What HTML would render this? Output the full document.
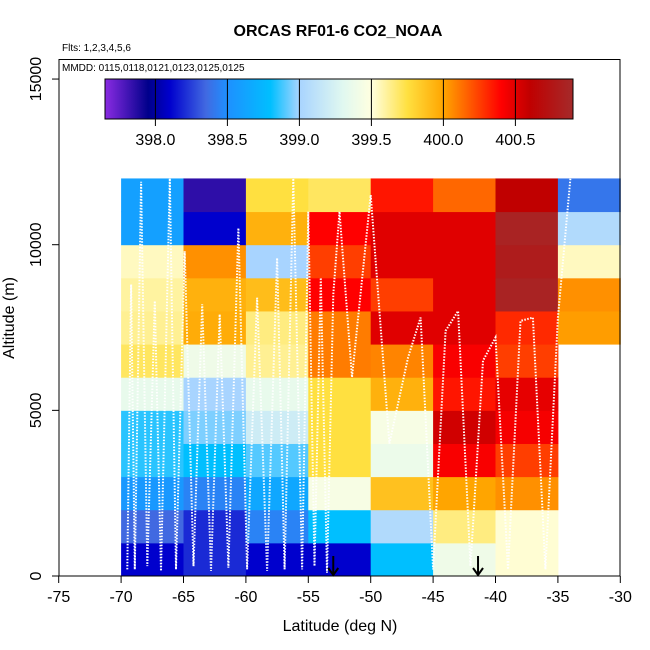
<!DOCTYPE html>
<html><head><meta charset="utf-8"><style>
body{margin:0;background:#fff;}
svg{display:block;font-family:"Liberation Sans",sans-serif;}
</style></head><body>
<svg id="chart" width="650" height="650" viewBox="0 0 650 650">
<text x="338" y="36" font-size="16" font-weight="bold" text-anchor="middle">ORCAS RF01-6 CO2_NOAA</text>
<text x="62" y="51" font-size="10">Flts: 1,2,3,4,5,6</text>
<g id="cells"></g>
<g id="tracks"></g>
<rect x="59" y="59.5" width="561" height="516.5" fill="none" stroke="#000" stroke-width="1"/>
<text x="62" y="71" font-size="10">MMDD: 0115,0118,0121,0123,0125,0125</text>
<defs><linearGradient id="cbgrad" x1="0" x2="1" y1="0" y2="0"></linearGradient></defs>
<rect x="105" y="79" width="468" height="40" fill="url(#cbgrad)" stroke="#000" stroke-width="1"/>
<g id="cbticks"></g>
<g id="axes"></g>
<text x="340" y="631" font-size="16" text-anchor="middle">Latitude (deg N)</text>
<text x="0" y="0" font-size="16" text-anchor="middle" transform="translate(14,318) rotate(-90)">Altitude (m)</text>
</svg>
<script>
const latEdges=[-70,-65,-60,-55,-50,-45,-40,-35,-30];
const altEdges=[0,1000,2000,3000,4000,5000,6000,7000,8000,9000,10000,11000,12000];
// rows from bottom (0-1000) upward; columns west->east
const row1=[398.1,398.2,398.1,398.1,398.8,399.4,399.52,null];
const row2=[398.35,398.2,398.45,398.8,399.05,399.65,399.52,null];
const row3=[398.55,398.45,398.65,399.45,399.88,400.0,400.05,null];
const row4=[398.85,398.8,398.9,399.75,399.38,400.42,400.25,null];
const row5=[398.85,398.95,399.2,399.75,399.45,400.55,400.43,null];
const row6=[399.35,399.0,399.35,399.75,399.95,400.35,400.48,null];
const row7=[399.7,399.4,399.62,400.1,400.08,400.42,400.25,null];
const row8=[399.62,399.97,399.65,400.1,400.5,400.5,400.3,400.02];
const row9=[399.6,399.95,399.9,400.4,400.25,400.5,400.85,400.05];
const row10=[399.55,400.05,399.0,400.25,400.5,400.5,400.8,399.55];
const row11=[398.6,398.1,399.95,400.4,400.5,400.5,400.85,399.05];
const row12=[398.6,397.85,399.75,399.7,400.35,400.15,400.6,398.4];
const grid=[row1,row2,row3,row4,row5,row6,row7,row8,row9,row10,row11,row12];
const xTicks=[-75,-70,-65,-60,-55,-50,-45,-40,-35,-30];
const yTicks=[0,5000,10000,15000];
const cbTicks=[398.0,398.5,399.0,399.5,400.0,400.5];
const arrowLats=[-53.0,-41.4];
const trackLat=[-69.5,-69.2,-68.9,-68.4,-67.9,-67.3,-66.8,-66.1,-65.6,-64.9,-64.2,-63.5,-62.8,-62.1,-61.4,-60.6,-59.9,-59.1,-58.3,-57.5,-56.9,-56.2,-55.5,-55.0,-54.5,-54.0,-53.5,-53.0,-52.5,-51.5,-50.0,-48.5,-47.0,-46.0,-45.0,-44.0,-43.0,-42.0,-41.0,-40.0,-39.0,-38.0,-37.0,-36.0,-35.0,-34.0];
const trackAlt=[200,8800,200,11900,300,8300,150,12000,200,9800,300,8200,150,7900,250,10500,200,8400,150,9600,200,12000,200,11000,300,9000,100,8500,11000,6000,11500,4000,6600,7800,200,7400,8000,300,6500,7200,200,7700,7800,200,7800,12000];
const cmV=[397.65,397.95,398.1,398.35,398.5,398.8,399.0,399.3,399.5,399.75,400.0,400.4,400.6,400.9];
const cmC=["#8a2be2","#00008b","#0000cd","#4169e1","#1e90ff","#00bfff","#a8d4ff","#e0f8f0","#ffffe0","#ffe040","#ffa500","#ff0000","#c00000","#a52a2a"];
const NS="http://www.w3.org/2000/svg";
const X=v=>58.7+(v+75)*12.48;
const Y=v=>576-v*0.03313;
const CB=v=>105+(v-397.65)*144;
function hex(h){return [1,3,5].map(i=>parseInt(h.substr(i,2),16));}
function cmap(v){
 if(v<=cmV[0])return cmC[0];
 for(let i=1;i<cmV.length;i++){if(v<=cmV[i]){const t=(v-cmV[i-1])/(cmV[i]-cmV[i-1]);const a=hex(cmC[i-1]),b=hex(cmC[i]);return "rgb("+a.map((c,k)=>Math.round(c+(b[k]-c)*t)).join(",")+")";}}
 return cmC[cmC.length-1];
}
function mk(tag,attrs,parent){const e=document.createElementNS(NS,tag);for(const k in attrs)e.setAttribute(k,attrs[k]);parent.appendChild(e);return e;}
const cells=document.getElementById('cells');
grid.forEach((row,r)=>row.forEach((v,c)=>{
 if(v===null)return;
 const x0=X(latEdges[c]),x1=X(latEdges[c+1]),y0=Y(altEdges[r+1]),y1=Y(altEdges[r]);
 const e=mk('rect',{x:x0,y:y0,width:x1-x0+0.5,height:y1-y0+0.5,fill:cmap(v)},cells);
 
 
}));
const tr=document.getElementById('tracks');
const pts=trackLat.map((l,i)=>X(l).toFixed(1)+","+Y(trackAlt[i]).toFixed(1)).join(" ");
const pl=mk('polyline',{points:pts,fill:"none",stroke:"#fff","stroke-width":2,"stroke-dasharray":"1.5 1.5"},tr);


arrowLats.forEach(l=>{
 const g=mk('g',{},tr);
 
 
 mk('line',{x1:X(l),x2:X(l),y1:556,y2:575,stroke:"#000","stroke-width":2},g);
 mk('polyline',{points:(X(l)-5)+",568 "+X(l)+",575 "+(X(l)+5)+",568",fill:"none",stroke:"#000","stroke-width":2},g);
});
const gr=document.getElementById('cbgrad');
cmV.forEach((v,i)=>{mk('stop',{offset:((v-cmV[0])/(cmV[cmV.length-1]-cmV[0])).toFixed(4),"stop-color":cmC[i]},gr);});
const cbt=document.getElementById('cbticks');
cbTicks.forEach(v=>{
 const x=CB(v);
 const l=mk('line',{x1:x,x2:x,y1:79,y2:126,stroke:"#000","stroke-width":1},cbt);
 
 
 const t=mk('text',{x:x,y:145,"font-size":16,"text-anchor":"middle"},cbt);
 t.textContent=v.toFixed(1);
 
 
});
const ax=document.getElementById('axes');
xTicks.forEach(v=>{
 const x=X(v);
 const l=mk('line',{x1:x,x2:x,y1:576,y2:583,stroke:"#000"},ax);
 
 
 const t=mk('text',{x:x,y:602,"font-size":16,"text-anchor":"middle"},ax);
 t.textContent=String(v);
 
 
});
yTicks.forEach(v=>{
 const y=Y(v);
 const l=mk('line',{x1:52,x2:59,y1:y,y2:y,stroke:"#000"},ax);
 
 
 const t=mk('text',{x:0,y:0,"font-size":16,"text-anchor":"middle",transform:"translate(41,"+y+") rotate(-90)"},ax);
 t.textContent=String(v);
 
 
});
</script>
</body></html>
